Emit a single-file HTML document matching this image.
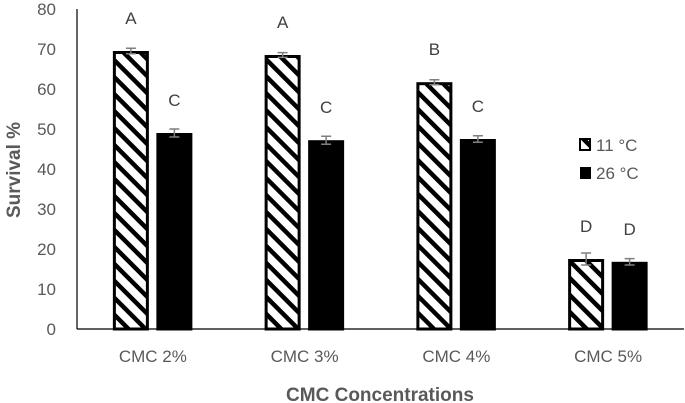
<!DOCTYPE html>
<html><head><meta charset="utf-8"><style>
body{margin:0;background:#fff}
svg{display:block;font-family:"Liberation Sans",sans-serif}
</style></head><body>
<svg width="685" height="403">
<defs>
<pattern id="hatch" patternUnits="userSpaceOnUse" width="12" height="12" patternTransform="rotate(-45)">
<rect width="12" height="12" fill="#fff"/><rect x="0" y="0" width="4.5" height="12" fill="#000"/>
</pattern>
</defs>
<g id="chart"></g>
</svg>
<script>
const categories=["CMC 2%","CMC 3%","CMC 4%","CMC 5%"];
const s11=[69.5,68.5,61.7,17.5];
const s26=[49,47.2,47.5,16.8];
const e11=[0.7,0.6,0.6,1.5];
const e26=[1.0,1.0,0.8,0.8];
const l11=["A","A","B","D"];
const l26=["C","C","C","D"];
const yTicks=[0,10,20,30,40,50,60,70,80];
const NS="http://www.w3.org/2000/svg";
const g=document.getElementById('chart');
const x0=77,x1=684,yb=329,yt=9;
const y=v=>yb-(v/80)*(yb-yt);
const cw=(x1-x0)/categories.length;
const cx=i=>x0+cw*(i+0.5);
function mk(t,a,txt){const e=document.createElementNS(NS,t);for(const k in a)e.setAttribute(k,a[k]);if(txt!==undefined)e.textContent=txt;g.appendChild(e);return e;}
yTicks.forEach(t=>{
 const e=mk('text',{x:56,y:y(t)+6,'text-anchor':'end','font-size':17,fill:'#595959'},t);
 
 
});
let ax=mk('line',{x1:x0,y1:yt,x2:x0,y2:yb,stroke:'#000','stroke-width':1.2});


function bar(i,v,err,lab,left){
 const bx=left?cx(i)-40:cx(i)+3.5;
 const r=mk('rect',{x:bx+1.5,y:y(v)+1.5,width:33,height:yb-y(v)-1.5,fill:left?'url(#hatch)':'#000',stroke:'#000','stroke-width':3});
 
 
 const mx=bx+18;
 const eb=mk('path',{d:`M${mx-5},${y(v+err)}H${mx+5}M${mx},${y(v+err)}V${y(v-err)}M${mx-5},${y(v-err)}H${mx+5}`,stroke:'#7f7f7f','stroke-width':1.5,fill:'none'});
 
 
 const t=mk('text',{x:mx,y:y(v)-27,'text-anchor':'middle','font-size':17,fill:'#404040'},lab);
 
 
}
categories.forEach((c,i)=>{
 bar(i,s11[i],e11[i],l11[i],true);
 bar(i,s26[i],e26[i],l26[i],false);
 const t=mk('text',{x:cx(i),y:362,'text-anchor':'middle','font-size':17,fill:'#595959'},c);
 
 
});
let bx=mk('line',{x1:x0,y1:yb,x2:x1,y2:yb,stroke:'#000','stroke-width':1.2});


let lg1=mk('rect',{x:580,y:139,width:10,height:11,fill:'url(#hatch)',stroke:'#000','stroke-width':2});


let lt1=mk('text',{x:596,y:151,'font-size':17,fill:'#595959'},'11 °C');


let lg2=mk('rect',{x:580,y:167,width:11,height:12,fill:'#000'});


let lt2=mk('text',{x:596,y:179,'font-size':17,fill:'#595959'},'26 °C');


let yt1=mk('text',{x:0,y:0,transform:'translate(20,170) rotate(-90)','text-anchor':'middle','font-size':19,'font-weight':'bold',fill:'#595959'},'Survival %');


let xt=mk('text',{x:380,y:401,'text-anchor':'middle','font-size':19,'font-weight':'bold',fill:'#595959'},'CMC Concentrations');


</script>
</body></html>
